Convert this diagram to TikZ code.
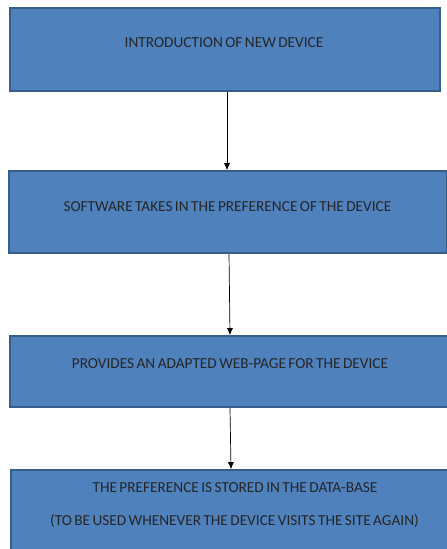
\documentclass[tikz,border=0pt]{standalone}
\usepackage{fontspec}
\setmainfont{Carlito}[WordSpace=0.7]
\usepackage{tikz}
\usetikzlibrary{arrows.meta, calc}
\definecolor{boxblue}{RGB}{79, 129, 189}
\definecolor{boxedge}{RGB}{56, 93, 138}

\begin{document}
\begin{tikzpicture}[x=1pt, y=-1pt,
  devbox/.style={draw=boxedge, fill=boxblue, line width=1.6pt, rectangle, inner sep=0pt},
  boxtext/.style={font=\fontsize{15.3}{17}\selectfont, text=black!85, inner sep=0pt},
  flow/.style={-{Latex[length=7pt, width=6pt]}, line width=0.7pt}
]
  \clip (0, 0) rectangle (447, 549);
  \fill[white] (0, 0) rectangle (447, 549);
  \node[devbox, minimum width=430pt, minimum height=83pt] (intro) at (225, 49.5) {};
  \node[devbox, minimum width=438pt, minimum height=82pt] (soft) at (228, 212) {};
  \node[devbox, minimum width=440pt, minimum height=71pt] (page) at (230, 371.5) {};
  \node[devbox, minimum width=448pt, minimum height=90pt] (store) at (235, 515) {};
  \node[boxtext] (introtxt) at (224, 43) {INTRODUCTION OF NEW DEVICE};
  \node[boxtext] (softtxt) at (227.5, 207) {SOFTWARE TAKES IN THE PREFERENCE OF THE DEVICE};
  \node[boxtext] (pagetxt) at (230, 364) {PROVIDES AN ADAPTED WEB-PAGE FOR THE DEVICE};
  \node[boxtext] (storetxt) at (235, 488) {THE PREFERENCE IS STORED IN THE DATA-BASE};
  \node[boxtext] (againtxt) at (234.5, 521) {(TO BE USED WHENEVER THE DEVICE VISITS THE SITE AGAIN)};
  \draw[flow] ([xshift=2pt]intro.south) -- ([xshift=-1pt]soft.north);
  \draw[flow] ([xshift=1pt]soft.south) -- (page.north);
  \draw[flow] (page.south) -- ([xshift=-4pt]store.north);
\end{tikzpicture}
\end{document}
